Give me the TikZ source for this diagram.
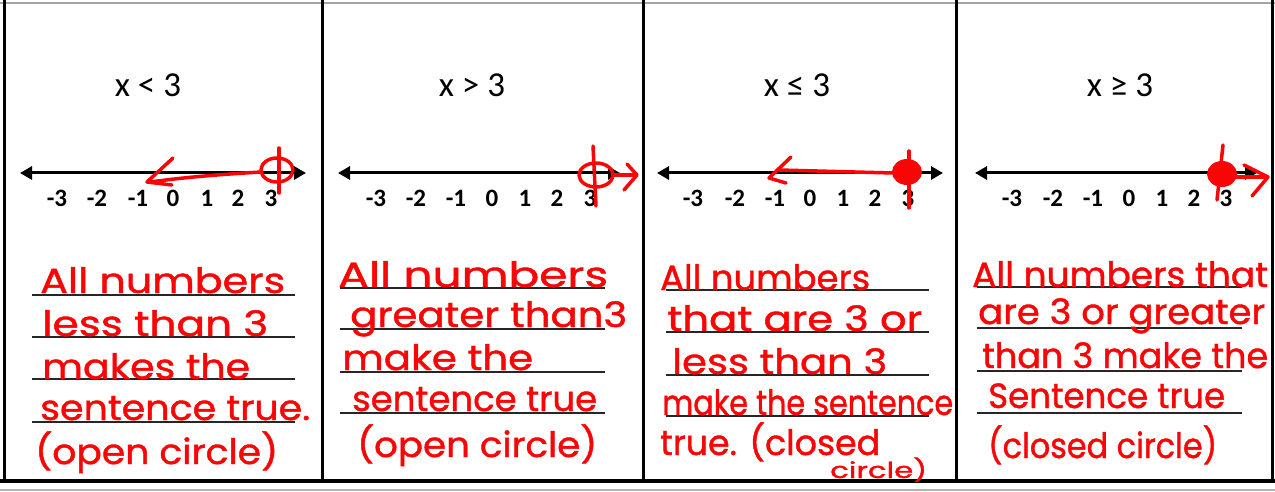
\documentclass[tikz,border=0pt]{standalone}
\usepackage{fontspec}
\usepackage{graphicx}
\setmainfont{Carlito}
\newfontfamily\hwfont[FakeBold=1.2]{Poppins}
\usetikzlibrary{arrows.meta}
\definecolor{ink}{RGB}{250,5,5}
\newcommand{\hw}[2]{\resizebox{#1pt}{\height}{\hwfont\fontsize{35}{35}\selectfont #2}}
\newcommand{\hws}[2]{\resizebox{#1pt}{\height}{\hwfont\fontsize{22}{22}\selectfont #2}}
\begin{document}
\begin{tikzpicture}[x=1pt,y=-1pt,
  frame/.style={line width=3pt,black},
  numline/.style={line width=3pt,black,{Triangle[length=12pt,width=13pt]}-{Triangle[length=12pt,width=13pt]}},
  title/.style={font=\fontsize{35}{35}\selectfont,anchor=base,inner sep=0pt},
  lbl/.style={font=\bfseries\fontsize{25}{25}\selectfont,anchor=base,inner sep=0pt},
  rule/.style={line width=1.8pt,black!85},
  pen/.style={ink,line width=3.5pt,line cap=round,line join=round},
  hand/.style={ink,anchor=base west,inner sep=0pt}]
\useasboundingbox (0,0) rectangle (1275,492);
% frame
\draw[gray!70,line width=2pt] (0,3) -- (1275,3);
\draw[gray!60,line width=1.5pt] (0,490) -- (1275,490);
\draw[frame] (4.5,0) -- (4.5,481);
\draw[frame] (322,0) -- (322,481);
\draw[frame] (643,0) -- (643,481);
\draw[frame] (956,0) -- (956,481);
\draw[frame] (1272,0) -- (1272,481);
\draw[line width=4pt] (0,480.5) -- (1275,480.5);
% titles
\node[title] (t1) at (148,97) {x < 3};
\node[title] (t2) at (472,97) {x > 3};
\node[title] (t3) at (797,97) {x ≤ 3};
\node[title] (t4) at (1120,97) {x ≥ 3};
% number lines
\coordinate (a1) at (20,173); \coordinate (b1) at (306,173);
\coordinate (a2) at (338,173); \coordinate (b2) at (620,173);
\coordinate (a3) at (657,173); \coordinate (b3) at (943,173);
\coordinate (a4) at (975,173); \coordinate (b4) at (1257,173);
\draw[numline] (a1) -- (b1);
\draw[numline] (a2) -- (b2);
\draw[numline] (a3) -- (b3);
\draw[numline] (a4) -- (b4);
\foreach \x [count=\i] in {57,97,138,173,207,238,271} {
  \pgfmathtruncatemacro{\v}{\i-4}
  \node[lbl] (p1n\i) at (\x,207) {\v};}
\foreach \x [count=\i] in {376,416,456,492,525,557,590} {
  \pgfmathtruncatemacro{\v}{\i-4}
  \node[lbl] (p2n\i) at (\x,207) {\v};}
\foreach \x [count=\i] in {693,735,775,810,843,875,908} {
  \pgfmathtruncatemacro{\v}{\i-4}
  \node[lbl] (p3n\i) at (\x,207) {\v};}
\foreach \x [count=\i] in {1012,1053,1093,1129,1162,1194,1226} {
  \pgfmathtruncatemacro{\v}{\i-4}
  \node[lbl] (p4n\i) at (\x,207) {\v};}
% red marks on number lines
\draw[pen] (277,170) ellipse [x radius=16,y radius=12];
\draw[pen] (279,148) -- (279,193);
\draw[pen] (261,172) .. controls (210,175) and (180,178) .. (150,182);
\draw[pen] (173,158) -- (147,182) -- (172,185);
\draw[pen] (596,175) ellipse [x radius=17,y radius=12];
\draw[pen] (593,146) -- (596,206);
\draw[pen] (613,175) -- (636,175);
\draw[pen] (627,164) -- (637,175) -- (624,190);
\fill[ink] (907,172) ellipse [x radius=15,y radius=13];
\draw[pen] (909,151) -- (909,208);
\draw[pen] (893,173) -- (779,170);
\draw[pen] (791,157) -- (769,178) -- (786,183);
\fill[ink] (1222,174) ellipse [x radius=15,y radius=13];
\draw[pen] (1223,145) -- (1217,200);
\draw[pen] (1232,177) -- (1266,177);
\draw[pen] (1244,165) -- (1268,177) -- (1252,196);
% ruled lines
\foreach \y in {295,337,379,422} \draw[rule] (32,\y) -- (295,\y);
\foreach \y in {288,329,372,413} \draw[rule] (340,\y) -- (605,\y);
\foreach \y in {290,332,375,416} \draw[rule] (666,\y) -- (929,\y);
\foreach \y in {287,328,371,413} \draw[rule] (977,\y) -- (1242,\y);
% handwriting panel 1
\node[hand] (h11) at (40,293) {\hw{245}{All numbers}};
\node[hand] (h12) at (42,336) {\hw{226}{less than 3}};
\node[hand] (h13) at (42,379) {\hw{208}{makes the}};
\node[hand] (h14) at (40,420) {\hw{270}{sentence true.}};
\node[hand] (h15) at (35,464) {\hw{243}{(open circle)}};
% panel 2
\node[hand] (h21) at (338,287) {\hw{270}{All numbers}};
\node[hand] (h22) at (350,327) {\hw{277}{greater than3}};
\node[hand] (h23) at (342,370) {\hw{191}{make the}};
\node[hand] (h24) at (352,411) {\hw{245}{sentence true}};
\node[hand] (h25) at (357,457) {\hw{240}{(open circle)}};
% panel 3
\node[hand] (h31) at (660,290) {\hw{210}{All numbers}};
\node[hand] (h32) at (667,331) {\hw{255}{that are 3 or}};
\node[hand] (h33) at (672,374) {\hw{215}{less than 3}};
\node[hand] (h34) at (662,415) {\hw{291}{make the sentence}};
\node[hand] (h35) at (660,455) {\hw{220}{true. (closed}};
\node[hand] (h36) at (830,478) {\hws{97}{circle)}};
% panel 4
\node[hand] (h41) at (972,287) {\hw{296}{All numbers that}};
\node[hand] (h42) at (978,324) {\hw{287}{are 3 or greater}};
\node[hand] (h43) at (982,368) {\hw{286}{than 3 make the}};
\node[hand] (h44) at (988,408) {\hw{237}{Sentence true}};
\node[hand] (h45) at (988,458) {\hw{229}{(closed circle)}};
\end{tikzpicture}
\end{document}
